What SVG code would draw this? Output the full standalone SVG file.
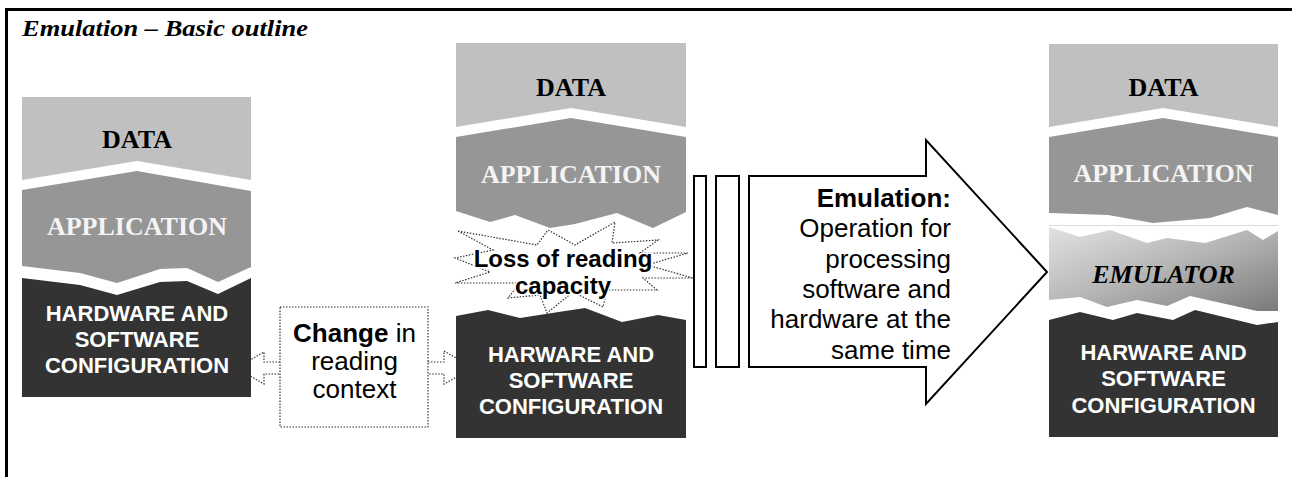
<svg xmlns="http://www.w3.org/2000/svg" width="1292" height="477" viewBox="0 0 1292 477">
<style>
.data{fill:#c0c0c0}
.app{fill:#969696}
.hw{fill:#333333}
.serif{font-family:"Liberation Serif","Times New Roman",serif;font-weight:bold;font-size:26px;text-anchor:middle}
.dtxt{fill:#000}
.atxt{fill:#f4f4f4}
.hwtxt{font-family:"Liberation Sans",Arial,sans-serif;font-weight:bold;font-size:22px;fill:#fff;text-anchor:middle}
.sans{font-family:"Liberation Sans",Arial,sans-serif;font-size:26px;fill:#000}
.dot{fill:none;stroke:#333;stroke-width:1.2;stroke-dasharray:1.5 1.5}
.solid{fill:#fff;stroke:#000;stroke-width:2}
</style>
<defs>
<linearGradient id="emuGrad" x1="0" y1="0" x2="1" y2="1">
<stop offset="0" stop-color="#e2e2e2"/>
<stop offset="0.5" stop-color="#b4b4b4"/>
<stop offset="1" stop-color="#7a7a7a"/>
</linearGradient>
</defs>
<rect x="0" y="0" width="1292" height="477" fill="#fff"/>
<path id="frame" d="M6.5,477 V9.5 H1292" fill="none" stroke="#000" stroke-width="3"/>
<text x="22" y="36" font-family="'Liberation Serif','Times New Roman',serif" font-weight="bold" font-style="italic" font-size="23" textLength="286" lengthAdjust="spacingAndGlyphs">Emulation – Basic outline</text>

<g id="stack-left">
<polygon class="data" points="22,97 251,97 251,180 137,161 22,180"/>
<polygon class="app" points="22,190 137,171 251,191 251,267 218,282 187,268 160,269 117,283 80,273 22,266"/>
<polygon class="hw" points="22,278 80,285 117,295 160,282 187,281 218,294 251,278 251,397 22,397"/>
<text class="serif dtxt" x="137" y="148">DATA</text>
<text class="serif atxt" x="137" y="235">APPLICATION</text>
<text class="hwtxt" x="137" y="321">HARDWARE AND</text>
<text class="hwtxt" x="137" y="347">SOFTWARE</text>
<text class="hwtxt" x="137" y="373">CONFIGURATION</text>
</g>

<g id="stack-middle">
<polygon class="data" points="456,43 686,43 686,127 571,108 456,127"/>
<polygon class="app" points="456,137 571,118 686,137 686,212 653,228 617,213 575,224 550,228 515,215 490,222 456,211"/>
<polygon class="hw" points="456,316 488,310 520,318 552,313 585,308 622,322 658,315 686,320 686,438 456,438"/>
<text class="serif dtxt" x="571" y="96">DATA</text>
<text class="serif atxt" x="571" y="183">APPLICATION</text>
<text class="hwtxt" x="571" y="362">HARWARE AND</text>
<text class="hwtxt" x="571" y="388">SOFTWARE</text>
<text class="hwtxt" x="571" y="414">CONFIGURATION</text>
</g>

<g id="loss">
<polygon fill="#fff" class="dot" points="458,231 537,245 548,230 575,245 615,222 612,243 658,240 640,253 688,253 647,265 693,278 643,278 657,290 607,290 603,307 573,292 547,313 540,295 508,298 520,283 455,283 490,272 455,258 493,250"/>
<text x="563" y="267" font-family="'Liberation Sans',Arial,sans-serif" font-weight="bold" font-size="24" text-anchor="middle" fill="#000" stroke="#fff" stroke-width="3" paint-order="stroke">Loss of reading</text>
<text x="563" y="294" font-family="'Liberation Sans',Arial,sans-serif" font-weight="bold" font-size="24" text-anchor="middle" fill="#000" stroke="#fff" stroke-width="3" paint-order="stroke">capacity</text>
</g>

<g id="change">
<rect class="dot" x="280" y="307" width="148" height="120"/>
<text class="sans" x="354.5" y="342" text-anchor="middle" font-size="24"><tspan font-weight="bold">Change</tspan> in</text>
<text class="sans" x="354.5" y="370" text-anchor="middle" font-size="24">reading</text>
<text class="sans" x="354.5" y="398" text-anchor="middle" font-size="24">context</text>
</g>

<g id="connectors">
<polyline class="dot" points="280,362 264,362 264,352 236,368 264,384 264,374 280,374"/>
<polyline class="dot" points="428,362 444,362 444,351 473,368 444,384 444,374 428,374"/>
<rect class="solid" x="694" y="176" width="12" height="191"/>
<rect class="solid" x="716" y="176" width="23" height="191"/>
<polygon class="solid" points="749,176 926,176 926,140 1047,272 926,404 926,367 749,367"/>
</g>

<g id="emulation-label">
<text class="sans" x="951" y="207" text-anchor="end" font-weight="bold">Emulation:</text>
<text class="sans" x="951" y="237" text-anchor="end">Operation for</text>
<text class="sans" x="951" y="268" text-anchor="end">processing</text>
<text class="sans" x="951" y="298" text-anchor="end">software and</text>
<text class="sans" x="951" y="328" text-anchor="end">hardware at the</text>
<text class="sans" x="951" y="359" text-anchor="end">same time</text>
</g>

<g id="stack-right">
<polygon class="data" points="1049,44 1278,44 1278,127 1163,108 1049,127"/>
<polygon class="app" points="1049,137 1163,118 1278,137 1278,215 1247,207 1210,218 1153,223 1108,215 1049,213"/>
<rect x="1049" y="225" width="229" height="1" fill="#dcdcdc"/>
<polygon fill="url(#emuGrad)" points="1049,227 1080,237 1110,230 1147,243 1167,238 1205,243 1247,230 1263,240 1278,231 1278,311 1257,311 1190,296 1167,306 1137,300 1107,307 1080,297 1049,300"/>
<polygon class="hw" points="1049,320 1080,312 1113,320 1137,313 1173,320 1195,310 1257,325 1278,322 1278,437 1049,437"/>
<text class="serif dtxt" x="1163.5" y="96">DATA</text>
<text class="serif atxt" x="1163.5" y="182">APPLICATION</text>
<text class="serif dtxt" x="1163.5" y="283" font-style="italic">EMULATOR</text>
<text class="hwtxt" x="1163.5" y="360">HARWARE AND</text>
<text class="hwtxt" x="1163.5" y="386">SOFTWARE</text>
<text class="hwtxt" x="1163.5" y="413">CONFIGURATION</text>
</g>
</svg>
